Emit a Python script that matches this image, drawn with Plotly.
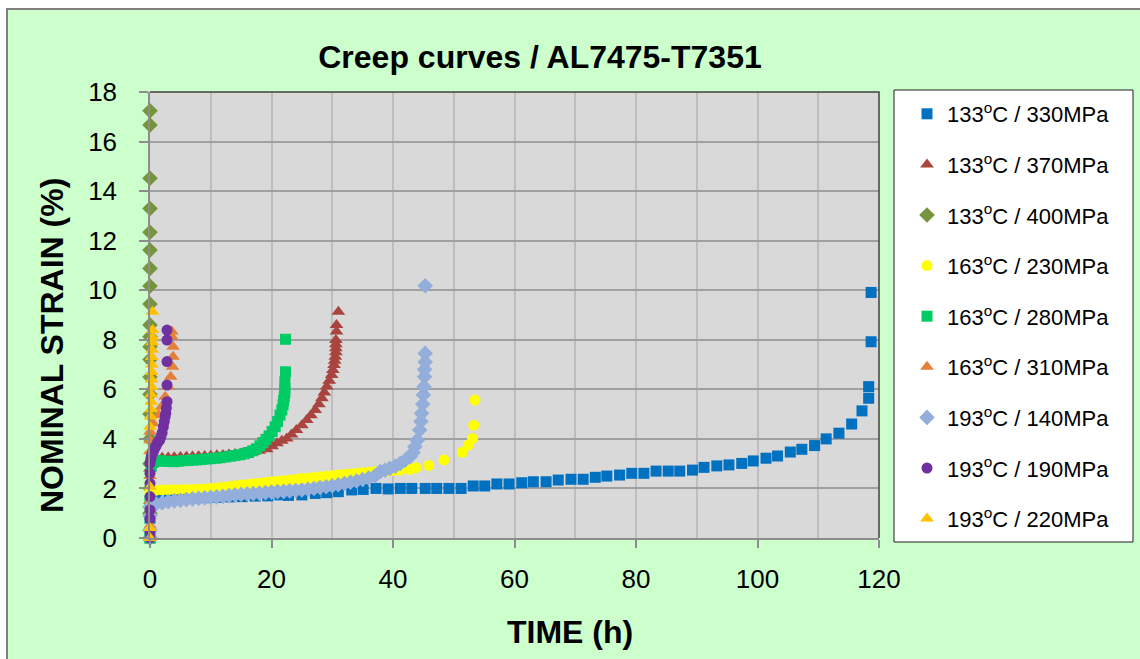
import plotly.graph_objects as go

# ---- data: (time h, nominal strain %) ----
s133_330 = [(0, 0), (0, 0.8), (0.1, 1.3), (0.3, 1.5), (1.2, 1.55), (3.2, 1.57), (5.2, 1.59), (7.2, 1.61),
            (9.2, 1.63), (11.2, 1.64), (13.2, 1.66), (15.2, 1.67), (17.3, 1.69), (19.4, 1.70), (21.4, 1.74),
            (22.8, 1.72), (25.0, 1.74), (27.2, 1.80), (29.1, 1.83), (31.0, 1.87), (33.2, 1.94), (35.1, 1.96),
            (37.2, 2.0), (39.2, 1.98), (41.2, 2.0), (43.1, 2.0), (45.3, 2.0), (47.2, 2.0), (49.2, 2.0),
            (51.2, 2.0), (53.2, 2.1), (55.1, 2.1), (57.1, 2.18), (59.1, 2.18), (61.2, 2.23), (63.1, 2.27),
            (65.2, 2.27), (67.2, 2.34), (69.3, 2.37), (71.3, 2.37), (73.3, 2.45), (75.2, 2.50), (77.3, 2.54),
            (79.3, 2.61), (81.3, 2.61), (83.3, 2.70), (85.3, 2.70), (87.2, 2.70), (89.3, 2.74), (91.2, 2.85),
            (93.3, 2.91), (95.3, 2.95), (97.4, 3.01), (99.3, 3.11), (101.4, 3.22), (103.3, 3.31), (105.4, 3.47),
            (107.3, 3.58), (109.4, 3.73), (111.3, 4.00), (113.4, 4.23), (115.5, 4.60), (117.2, 5.13),
            (118.3, 5.64), (118.3, 6.11), (118.7, 7.92), (118.7, 9.91)]

s133_370 = [(0, 0), (0, 1.5), (0, 2.8), (0.2, 3.1), (0.5, 3.2), (1, 3.22), (2, 3.24), (3, 3.25), (4, 3.26),
            (5, 3.27), (6, 3.28), (7, 3.29), (8, 3.30), (9, 3.31), (10, 3.32), (11, 3.34), (12, 3.35),
            (13, 3.37), (14, 3.39), (15, 3.41), (16, 3.44), (17, 3.47), (18, 3.52), (19.2, 3.58), (20.1, 3.70),
            (20.9, 3.82), (21.7, 3.92), (22.5, 4.02), (23.3, 4.18), (24.1, 4.36), (25.0, 4.55), (25.8, 4.76),
            (26.5, 4.95), (27.2, 5.17), (27.8, 5.40), (28.3, 5.64), (28.7, 5.87), (29.1, 6.11), (29.5, 6.35),
            (29.9, 6.58), (30.1, 6.78), (30.3, 6.98), (30.4, 7.15), (30.5, 7.32), (30.6, 7.50), (30.6, 7.66),
            (30.6, 7.82), (30.6, 7.99), (30.7, 8.33), (30.7, 8.60), (31.0, 9.13)]

s133_400 = [(0, 0), (0, 1.0), (0, 2.0), (0, 3.0), (0, 4.0), (0, 5.0), (0, 5.8), (0, 6.5), (0, 7.2),
            (0, 7.72), (0, 8.12), (0, 8.6), (0, 9.44), (0, 10.17), (0, 10.88), (0, 11.62), (0, 12.34),
            (0, 13.3), (0, 14.52), (0, 16.67), (0, 17.24)]

s163_230 = [(0, 0), (0, 0.9), (0, 1.85), (0.3, 1.92), (1, 1.93), (2, 1.94), (3, 1.94), (4, 1.95), (5, 1.95),
            (6, 1.96), (7, 1.96), (8, 1.97), (9, 1.98), (10, 2.0), (11, 2.02), (12, 2.05), (13, 2.08),
            (14, 2.11), (15, 2.14), (16, 2.16), (17, 2.19), (18, 2.21), (19, 2.24), (20, 2.27), (21, 2.29),
            (22, 2.32), (23, 2.34), (24, 2.37), (25, 2.40), (26, 2.42), (27, 2.44), (28, 2.47), (29, 2.49),
            (30, 2.52), (31, 2.54), (32, 2.56), (33, 2.58), (34, 2.61), (35, 2.63), (36, 2.65), (37, 2.67),
            (38, 2.69), (39, 2.71), (40, 2.72), (41.2, 2.74), (42.8, 2.77), (43.8, 2.84), (45.9, 2.93),
            (48.4, 3.15), (51.4, 3.46), (52.4, 3.75), (53.1, 4.02), (53.3, 4.55), (53.5, 5.57)]

s163_280 = [(0, 0), (0, 1.5), (0.2, 2.9), (0.5, 3.05), (1, 3.1), (1.7, 3.12), (2.5, 3.1), (3.2, 3.09),
            (3.9, 3.08), (4.7, 3.1), (5.5, 3.12), (6.2, 3.13), (7, 3.15), (7.7, 3.15), (8.5, 3.17), (9.3, 3.19),
            (10, 3.2), (10.8, 3.22), (11.6, 3.24), (12.4, 3.27), (13.2, 3.3), (14, 3.33), (14.8, 3.36),
            (15.5, 3.4), (16.2, 3.45), (16.9, 3.52), (17.5, 3.6), (18.1, 3.72), (18.6, 3.85), (19.1, 3.98),
            (19.6, 4.12), (20.1, 4.3), (20.6, 4.49), (21.0, 4.7), (21.4, 4.96), (21.7, 5.17), (21.9, 5.37),
            (22.0, 5.55), (22.1, 5.7), (22.2, 5.87), (22.2, 6.04), (22.2, 6.31), (22.3, 6.71), (22.3, 8.02)]

s163_310 = [(0, 0), (0, 0.5), (0, 1.5), (0, 2.5), (0, 3.5), (0, 3.95), (0, 4.29), (0.5, 4.63), (1.4, 4.96),
            (1.9, 5.3), (2.5, 5.7), (3.0, 6.11), (3.4, 6.51), (3.7, 6.91), (3.8, 7.32), (3.8, 7.72),
            (3.6, 8.12), (3.6, 8.33)]

s193_140 = [(0, 0), (0, 0.3), (0, 0.9), (0, 1.25), (0.3, 1.33), (1, 1.38), (2, 1.42), (3, 1.47), (4, 1.5),
            (5, 1.52), (6, 1.55), (7, 1.58), (8, 1.6), (9, 1.62), (10, 1.64), (11, 1.66), (12, 1.68),
            (13, 1.71), (14, 1.74), (15, 1.76), (16, 1.78), (17, 1.79), (18, 1.81), (19, 1.83), (20, 1.85),
            (21, 1.87), (22, 1.88), (23, 1.9), (24, 1.92), (25, 1.94), (26, 1.97), (27, 2.0), (28, 2.04),
            (29, 2.07), (30, 2.11), (31, 2.15), (32, 2.2), (33, 2.25), (34, 2.3), (35, 2.36), (36, 2.42),
            (37, 2.5), (37.9, 2.68), (38.7, 2.74), (39.5, 2.81), (40.4, 2.9), (41.2, 3.01), (42.0, 3.14),
            (42.8, 3.28), (43.3, 3.45), (43.6, 3.68), (44.0, 3.95), (44.4, 4.36), (44.6, 4.7), (44.7, 5.03),
            (44.9, 5.4), (45.0, 5.77), (45.1, 6.1), (45.2, 6.51), (45.2, 6.8), (45.3, 7.1), (45.3, 7.45),
            (45.3, 10.18)]

s193_190 = [(0, 0), (0, 0.25), (0, 0.79), (0, 1.13), (0, 1.67), (0, 2.2), (0, 2.61), (0, 3.01), (0.1, 3.15),
            (0.2, 3.28), (0.4, 3.42), (0.6, 3.52), (0.8, 3.62), (1.0, 3.72), (1.2, 3.83), (1.4, 3.9),
            (1.6, 3.95), (1.8, 4.1), (2.0, 4.25), (2.2, 4.49), (2.35, 4.7), (2.5, 4.9), (2.6, 5.03),
            (2.7, 5.25), (2.8, 5.5), (2.8, 6.17), (2.8, 7.12), (2.8, 7.99), (2.8, 8.39)]

s193_220 = [(0, 0), (0, 0.4), (0, 2.07), (0, 4.49), (0.1, 4.9), (0.15, 5.2), (0.2, 5.5), (0.2, 5.8),
            (0.25, 6.1), (0.25, 6.4), (0.3, 6.7), (0.3, 7.0), (0.3, 7.3), (0.35, 7.6), (0.35, 7.9),
            (0.4, 8.1), (0.4, 8.39), (0.4, 9.13)]

series_names = ["133<sup>o</sup>C / 330MPa", "133<sup>o</sup>C / 370MPa", "133<sup>o</sup>C / 400MPa",
                "163<sup>o</sup>C / 230MPa", "163<sup>o</sup>C / 280MPa", "163<sup>o</sup>C / 310MPa",
                "193<sup>o</sup>C / 140MPa", "193<sup>o</sup>C / 190MPa", "193<sup>o</sup>C / 220MPa"]
series_data = [s133_330, s133_370, s133_400, s163_230, s163_280, s163_310, s193_140, s193_190, s193_220]
series_symbols = ["square", "triangle-up", "diamond", "circle", "square", "triangle-up", "diamond", "circle",
                  "triangle-up"]
series_colors = ["#0070C0", "#A9443F", "#77933C", "#FFFF00", "#00CC66", "#E3803A", "#93AEDA", "#7030A0",
                 "#FFC000"]
series_sizes = [11, 12, 12, 11, 11, 12, 12, 11, 12]

x_ticks = [0, 20, 40, 60, 80, 100, 120]
y_ticks = [0, 2, 4, 6, 8, 10, 12, 14, 16, 18]

FONT = "Liberation Sans"

fig = go.Figure()
for i, (nm, pts, sym, col, sz) in enumerate(zip(series_names, series_data, series_symbols, series_colors,
                                                  series_sizes)):
    fig.add_trace(go.Scatter(
        x=[p[0] for p in pts], y=[p[1] for p in pts], mode="markers", name=nm,
        marker=dict(symbol=sym, color=col, size=sz, line=dict(width=0)),
        cliponaxis=False, legendgroup=str(i)))

W, H = 1140, 659
L, R, T, B = 150, 261, 92, 121
pw, ph = W - L - R, H - T - B


def px(x):
    return (x - L) / pw


def py(y):
    return (H - B - y) / ph


shapes = [
    dict(type="rect", xref="paper", yref="paper", x0=px(7), x1=px(1160), y0=py(680), y1=py(9),
         fillcolor="#CCFFCC", line=dict(color="#808080", width=2), layer="below"),
    dict(type="rect", xref="paper", yref="paper", x0=0, x1=1, y0=0, y1=1,
         fillcolor="#D9D9D9", line=dict(width=0), layer="below"),
    dict(type="rect", xref="paper", yref="paper", x0=px(894), x1=px(1133), y0=py(542), y1=py(90),
         fillcolor="white", line=dict(color="#202020", width=1), layer="below"),
    dict(type="path", xref="paper", yref="paper", path="M 0 1 L 1 1 L 1 0",
         line=dict(color="#404040", width=1.5), layer="above"),
]

fig.update_layout(
    width=W, height=H, autosize=False,
    margin=dict(l=L, r=R, t=T, b=B, pad=0),
    paper_bgcolor="white", plot_bgcolor="#D9D9D9",
    font=dict(family=FONT, color="black"),
    title=dict(text="<b>Creep curves / AL7475-T7351</b>", x=540 / W, y=1 - 57 / H,
               xanchor="center", yanchor="middle", xref="container", yref="container",
               font=dict(family=FONT, size=32, color="black")),
    shapes=shapes,
    annotations=[
        dict(text="<b>NOMINAL STRAIN (%)</b>", xref="paper", yref="paper", x=px(52), y=py(346),
             xanchor="center", yanchor="middle", textangle=-90, showarrow=False,
             font=dict(family=FONT, size=32, color="black")),
        dict(text="<b>TIME (h)</b>", xref="paper", yref="paper", x=px(570), y=py(632),
             xanchor="center", yanchor="middle", showarrow=False,
             font=dict(family=FONT, size=32, color="black")),
    ],
    legend=dict(x=px(907), y=py(93), xanchor="left", yanchor="top", bgcolor="rgba(0,0,0,0)",
                borderwidth=0, font=dict(family=FONT, size=22, color="black"), tracegroupgap=19,
                itemsizing="trace", maxheight=620),
    showlegend=True,
)

fig.update_xaxes(range=[0, 120], tickvals=x_ticks, ticks="outside", ticklen=8, tickwidth=1.5,
                 tickcolor="#8C8C8C", showline=True, linecolor="#8C8C8C", linewidth=1.5, zeroline=False,
                 showgrid=True, gridcolor="#BEBEBE", gridwidth=1.5,
                 minor=dict(dtick=10, tick0=0, showgrid=True, gridcolor="#BEBEBE", gridwidth=1.5, ticks=""),
                 tickfont=dict(family=FONT, size=26, color="black"), ticklabelstandoff=9,
                 fixedrange=True)
fig.update_yaxes(range=[0, 18], tickvals=y_ticks, ticks="outside", ticklen=9, tickwidth=1.5,
                 tickcolor="#8C8C8C", showline=True, linecolor="#8C8C8C", linewidth=1.5, zeroline=False,
                 showgrid=True, gridcolor="#A0A0A0", gridwidth=1.5,
                 tickfont=dict(family=FONT, size=26, color="black"), ticklabelstandoff=17,
                 fixedrange=True)

fig.write_html("out.html")
